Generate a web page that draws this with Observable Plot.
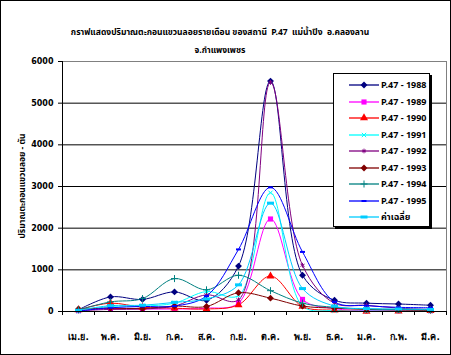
<!DOCTYPE html>
<html>
<head>
<meta charset="utf-8">
<script src="https://cdn.jsdelivr.net/npm/d3@7"></script>
<script src="https://cdn.jsdelivr.net/npm/@observablehq/plot@0.6"></script>
<style>
  html, body { margin: 0; padding: 0; background: #fff; }
  #wrap { position: relative; width: 451px; height: 355px; box-sizing: border-box; overflow: hidden;
          font-family: "Noto Sans Thai", "Noto Sans", "DejaVu Sans", sans-serif; }
  #frame { position: absolute; left: 0; top: 0; width: 449px; height: 353px; border: 1px solid #000; box-sizing: content-box; pointer-events: none; }
  .title { position: absolute; left: 0; width: 440px; text-align: center; font-size: 8.5px; font-weight: bold; color: #000; white-space: nowrap; }
  #ylab { position: absolute; left: 22px; top: 186px; transform: translate(-50%, -50%) rotate(-90deg); font-size: 8.5px; font-weight: bold; white-space: nowrap; }
  #legend { position: absolute; left: 333px; top: 73px; width: 95px; height: 152px; border: 1px solid #000; background: #fff; box-shadow: 2px 2px 0 #000; }
  #legend .row { position: absolute; left: 15px; height: 14px; display: flex; align-items: center; }
  #legend .row span { font-size: 9px; font-weight: bold; margin-left: 2px; white-space: nowrap; }
  svg.chart text { font-family: "DejaVu Sans", sans-serif; }
</style>
</head>
<body>
<div id="wrap">
  <div id="chart"></div>
  <div class="title" style="top:26px">กราฟแสดงปริมาณตะกอนแขวนลอยรายเดือน ของสถานี&nbsp; P.47&nbsp; แม่น้ำปิง&nbsp; อ.คลองลาน</div>
  <div class="title" style="top:44px">จ.กำแพงเพชร</div>
  <div id="ylab">ปริมาณตะกอนแขวนลอย - ตัน</div>
  <div id="legend"></div>
  <div id="frame"></div>
</div>
<script>
// ---- data ----
const months = ["เม.ย.","พ.ค.","มิ.ย.","ก.ค.","ส.ค.","ก.ย.","ต.ค.","พ.ย.","ธ.ค.","ม.ค.","ก.พ.","มี.ค."];
const seriesNames = ["P.47 - 1988","P.47 - 1989","P.47 - 1990","P.47 - 1991","P.47 - 1992","P.47 - 1993","P.47 - 1994","P.47 - 1995","ค่าเฉลี่ย"];
const v1988 = [40, 350, 290, 470, 270, 1090, 5530, 870, 270, 200, 180, 150];
const v1989 = [20, 70, 60, 60, 80, 200, 2220, 290, 70, 20, 20, 20];
const v1990 = [40, 200, 100, 80, 60, 160, 850, 120, 30, 0, 10, 20];
const v1991 = [10, 120, 130, 200, 480, 380, 2850, 130, 20, 10, 10, 10];
const v1992 = [20, 50, 60, 130, 400, 280, 5500, 1110, 200, 150, 80, 50];
const v1993 = [60, 80, 70, 130, 120, 450, 320, 130, 80, 50, 40, 30];
const v1994 = [40, 230, 310, 790, 520, 870, 500, 200, 100, 60, 50, 40];
const v1995 = [10, 90, 120, 130, 370, 1490, 2980, 1430, 230, 140, 100, 90];
const vAvg  = [30, 140, 150, 220, 300, 640, 2600, 550, 130, 70, 60, 50];
const yTicks = [0, 1000, 2000, 3000, 4000, 5000, 6000];
const gridTicks = [1000, 2000, 3000, 4000, 5000];

const seriesValues = [v1988, v1989, v1990, v1991, v1992, v1993, v1994, v1995, vAvg];
const colors = ["#000080","#FF00FF","#FF0000","#00FFFF","#800080","#800000","#008080","#0000FF","#00CCFF"];

const dash = (w, h) => ({ draw(ctx) { ctx.moveTo(-w/2, -h/2); ctx.lineTo(w/2, -h/2); ctx.lineTo(w/2, h/2); ctx.lineTo(-w/2, h/2); ctx.closePath(); } });
const markers = [
  {symbol: d3.symbolDiamond2, r: 3.1, filled: true},
  {symbol: d3.symbolSquare, r: 2.9, filled: true},
  {symbol: d3.symbolTriangle, r: 3, filled: true},
  {symbol: d3.symbolTimes, r: 2.1, filled: false},
  {symbol: d3.symbolAsterisk, r: 2.2, filled: false},
  {symbol: d3.symbolDiamond2, r: 3.1, filled: true},
  {symbol: d3.symbolPlus, r: 2.4, filled: false},
  {symbol: dash(5, 2), r: 3, filled: true},
  {symbol: dash(7, 3), r: 3, filled: true}
];

const rows = [];
seriesValues.forEach((vals, k) => vals.forEach((v, i) => rows.push({i, m: months[i], s: seriesNames[k], v})));

const marks = [
  Plot.ruleY(gridTicks, {stroke: "#000", strokeWidth: 1}),
  Plot.ruleY([6000], {stroke: "#808080"}),
  Plot.ruleX([11.5], {stroke: "#808080"}),
  Plot.axisY({ticks: yTicks, tickSize: 4, tickPadding: 5, fontSize: 8, fontWeight: "bold", label: null, tickFormat: d => String(d)}),
  Plot.axisX(d3.range(-0.5, 12, 1), {tickSize: 4, tickFormat: () => "", label: null}),
  Plot.axisX(d3.range(12), {tickSize: 0, tickPadding: 22, tickFormat: i => months[i], fontSize: 9, fontWeight: "bold", label: null}),
];
seriesNames.forEach((s, k) => {
  const d = rows.filter(r => r.s === s);
  marks.push(Plot.line(d, {x: "i", y: "v", stroke: colors[k], strokeWidth: 1, curve: "catmull-rom"}));
});
seriesNames.forEach((s, k) => {
  const d = rows.filter(r => r.s === s);
  const mk = markers[k];
  marks.push(Plot.dot(d, {x: "i", y: "v", symbol: mk.symbol, r: mk.r,
    fill: mk.filled ? colors[k] : "none", stroke: mk.filled ? "none" : colors[k], strokeWidth: 1}));
});
marks.push(Plot.ruleX([-0.5], {stroke: "#000"}));
marks.push(Plot.ruleY([0], {stroke: "#000"}));

const chart = Plot.plot({
  width: 451, height: 355,
  marginLeft: 62, marginRight: 5, marginTop: 61, marginBottom: 44,
  x: {type: "linear", domain: [-0.5, 11.5]},
  y: {domain: [0, 6000]},
  style: {background: "transparent", color: "#000"},
  className: "chart",
  marks
});
document.getElementById("chart").appendChild(chart);

// ---- legend ----
const legend = document.getElementById("legend");
seriesNames.forEach((s, k) => {
  const row = document.createElement("div");
  row.className = "row";
  row.style.top = (4 + k * 16.5) + "px";
  const mk = markers[k];
  const path = d3.symbol(mk.symbol, Math.PI * mk.r * mk.r)();
  row.innerHTML = `<svg width="30" height="14"><line x1="0" x2="30" y1="7" y2="7" stroke="${colors[k]}" stroke-width="1.3"/>` +
    `<path transform="translate(15,7)" d="${path}" fill="${mk.filled ? colors[k] : "none"}" stroke="${mk.filled ? "none" : colors[k]}"/></svg><span>${s}</span>`;
  legend.appendChild(row);
});
</script>
</body>
</html>
